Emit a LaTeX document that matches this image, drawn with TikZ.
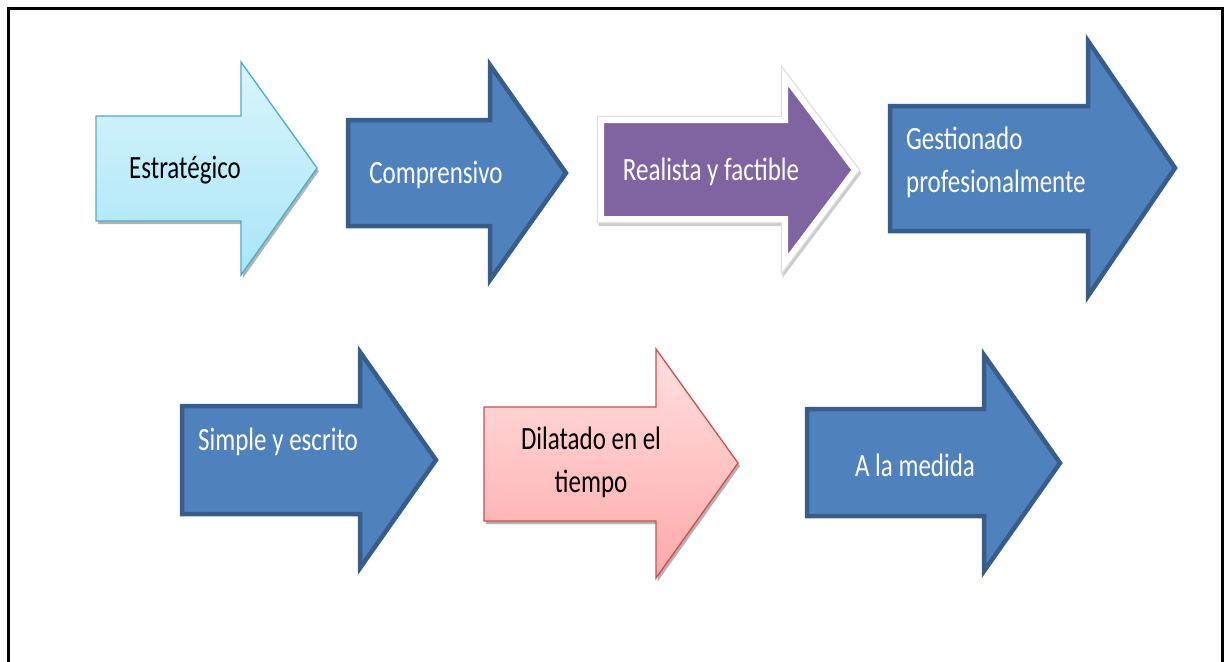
\documentclass[tikz,border=0pt]{standalone}
\usepackage{fontspec}
\setmainfont{Carlito}
\usetikzlibrary{shadows}

\definecolor{azul}{HTML}{4F81BD}
\definecolor{azulborde}{HTML}{385D8A}
\definecolor{cianclaro}{HTML}{DAF5FC}
\definecolor{cianoscuro}{HTML}{A8E6F8}
\definecolor{cianborde}{HTML}{4BACC6}
\definecolor{morado}{HTML}{8064A2}
\definecolor{rosaclaro}{HTML}{FFE0E0}
\definecolor{rosaoscuro}{HTML}{FFA9A9}
\definecolor{rosaborde}{HTML}{C9504D}

% flecha: estilo, izq, arriba, abajo, base punta, punta arriba, punta abajo, x punta, y punta
\newcommand{\flecha}[9]{%
  \draw[#1] (#2,-#3) -- (#5,-#3) -- (#5,-#6) -- (#8,-#9) -- (#5,-#7) -- (#5,-#4) -- (#2,-#4) -- cycle;}

\begin{document}
\begin{tikzpicture}[x=1pt,y=1pt,line join=miter,
  sombra/.style={drop shadow={opacity=0.3,shadow xshift=2pt,shadow yshift=-3pt,fill=black}},
  azulfl/.style={fill=azul,draw=azulborde,line width=4.5pt},
  cianfl/.style={top color=cianclaro,bottom color=cianoscuro,draw=cianborde,line width=1.3pt,sombra},
  moradofl/.style={fill=morado,draw=white,line width=6pt,
    drop shadow={opacity=0.2,shadow xshift=1.5pt,shadow yshift=-3pt,fill=black,draw=black,line width=8pt},
    preaction={draw=black!13,line width=8.5pt}},
  rosafl/.style={top color=rosaclaro,bottom color=rosaoscuro,draw=rosaborde,line width=1.3pt,sombra},
  texto/.style={font=\fontsize{25}{33}\selectfont,yscale=1.3,inner sep=0pt},
  blanco/.style={texto,text=white},
  negro/.style={texto,text=black}]
  \useasboundingbox (0,0) rectangle (1225,-661);
  \draw[line width=3pt] (8,-680) -- (8,-9) -- (1222,-9) -- (1222,-680);

  % fila de arriba
  \flecha{cianfl}{96}{116}{221}{241}{62}{275}{317}{168}
  \flecha{azulfl}{348}{120}{226}{490}{65}{280}{566}{173}
  \flecha{moradofl}{601}{120}{219}{785}{77}{263}{855}{170}
  \flecha{azulfl}{890}{106}{231}{1088}{41}{296}{1175}{168}

  % fila de abajo
  \flecha{azulfl}{182}{406}{514}{360}{352}{568}{436}{460}
  \flecha{rosafl}{484}{407}{521}{656}{349}{578}{738}{463}
  \flecha{azulfl}{807}{409}{516}{984}{355}{571}{1060}{463}

  \node[negro] (estrategico) at (185,-170) {Estratégico};
  \node[blanco] (comprensivo) at (436,-175) {Comprensivo};
  \node[blanco] (realista) at (711,-172) {Realista y factible};
  \node[blanco,align=left,anchor=west] (gestionado) at (906,-162) {Gestionado\\profesionalmente};
  \node[blanco] (simple) at (278,-442) {Simple y escrito};
  \node[negro,align=center] (dilatado) at (591,-462) {Dilatado en el\\tiempo};
  \node[blanco] (medida) at (915,-465) {A la medida};
\end{tikzpicture}
\end{document}
